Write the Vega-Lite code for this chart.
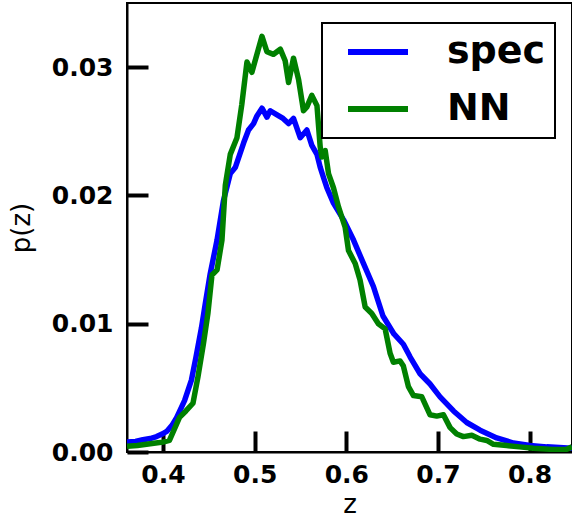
{
  "$schema": "https://vega.github.io/schema/vega-lite/v6.json",
  "width": 445,
  "height": 449,
  "autosize": {"type": "none"},
  "padding": {"left": 127, "top": 3, "right": 0, "bottom": 67},
  "config": {
    "view": {"stroke": "black", "strokeWidth": 2},
    "axis": {
      "grid": false,
      "domainColor": "black",
      "domainWidth": 2,
      "tickColor": "black",
      "tickWidth": 4,
      "tickSize": -21,
      "labelFont": "DejaVu Sans",
      "labelFontWeight": "bold",
      "labelFontSize": 25,
      "labelColor": "black",
      "titleFont": "DejaVu Sans",
      "titleFontWeight": "normal",
      "titleFontSize": 26,
      "titleColor": "black"
    },
    "legend": {"strokeWidth": 2}
  },
  "data": {
    "values": [
      {"z": 0.3607, "p": 0.00077, "s": "spec"},
      {"z": 0.370, "p": 0.00082, "s": "spec"},
      {"z": 0.378, "p": 0.00096, "s": "spec"},
      {"z": 0.386, "p": 0.00105, "s": "spec"},
      {"z": 0.393, "p": 0.0012, "s": "spec"},
      {"z": 0.399, "p": 0.0014, "s": "spec"},
      {"z": 0.404, "p": 0.0016, "s": "spec"},
      {"z": 0.410, "p": 0.0021, "s": "spec"},
      {"z": 0.415, "p": 0.0027, "s": "spec"},
      {"z": 0.4235, "p": 0.0040, "s": "spec"},
      {"z": 0.431, "p": 0.0056, "s": "spec"},
      {"z": 0.436, "p": 0.0074, "s": "spec"},
      {"z": 0.442, "p": 0.0097, "s": "spec"},
      {"z": 0.446, "p": 0.0115, "s": "spec"},
      {"z": 0.4515, "p": 0.0139, "s": "spec"},
      {"z": 0.4589, "p": 0.0165, "s": "spec"},
      {"z": 0.466, "p": 0.0196, "s": "spec"},
      {"z": 0.4734, "p": 0.0217, "s": "spec"},
      {"z": 0.479, "p": 0.0222, "s": "spec"},
      {"z": 0.488, "p": 0.0241, "s": "spec"},
      {"z": 0.4933, "p": 0.0251, "s": "spec"},
      {"z": 0.4988, "p": 0.0256, "s": "spec"},
      {"z": 0.5025, "p": 0.0262, "s": "spec"},
      {"z": 0.508, "p": 0.0268, "s": "spec"},
      {"z": 0.5134, "p": 0.0261, "s": "spec"},
      {"z": 0.517, "p": 0.0266, "s": "spec"},
      {"z": 0.524, "p": 0.0263, "s": "spec"},
      {"z": 0.531, "p": 0.0260, "s": "spec"},
      {"z": 0.537, "p": 0.0256, "s": "spec"},
      {"z": 0.5424, "p": 0.0260, "s": "spec"},
      {"z": 0.5497, "p": 0.0245, "s": "spec"},
      {"z": 0.557, "p": 0.0251, "s": "spec"},
      {"z": 0.5624, "p": 0.0239, "s": "spec"},
      {"z": 0.568, "p": 0.0232, "s": "spec"},
      {"z": 0.5715, "p": 0.0222, "s": "spec"},
      {"z": 0.5751, "p": 0.0214, "s": "spec"},
      {"z": 0.5788, "p": 0.0206, "s": "spec"},
      {"z": 0.586, "p": 0.0194, "s": "spec"},
      {"z": 0.597, "p": 0.0181, "s": "spec"},
      {"z": 0.608, "p": 0.0165, "s": "spec"},
      {"z": 0.6187, "p": 0.0147, "s": "spec"},
      {"z": 0.6296, "p": 0.0129, "s": "spec"},
      {"z": 0.640, "p": 0.0106, "s": "spec"},
      {"z": 0.652, "p": 0.0092, "s": "spec"},
      {"z": 0.6623, "p": 0.0084, "s": "spec"},
      {"z": 0.6697, "p": 0.0074, "s": "spec"},
      {"z": 0.6805, "p": 0.0061, "s": "spec"},
      {"z": 0.6914, "p": 0.0053, "s": "spec"},
      {"z": 0.7023, "p": 0.0043, "s": "spec"},
      {"z": 0.717, "p": 0.0032, "s": "spec"},
      {"z": 0.7314, "p": 0.0023, "s": "spec"},
      {"z": 0.746, "p": 0.0017, "s": "spec"},
      {"z": 0.7642, "p": 0.0011, "s": "spec"},
      {"z": 0.7824, "p": 0.0007, "s": "spec"},
      {"z": 0.8005, "p": 0.0005, "s": "spec"},
      {"z": 0.8187, "p": 0.0004, "s": "spec"},
      {"z": 0.8463, "p": 0.0003, "s": "spec"},
      {"z": 0.3607, "p": 0.00044, "s": "NN"},
      {"z": 0.372, "p": 0.0005, "s": "NN"},
      {"z": 0.382, "p": 0.0006, "s": "NN"},
      {"z": 0.392, "p": 0.0007, "s": "NN"},
      {"z": 0.400, "p": 0.00077, "s": "NN"},
      {"z": 0.407, "p": 0.0009, "s": "NN"},
      {"z": 0.418, "p": 0.0027, "s": "NN"},
      {"z": 0.425, "p": 0.0032, "s": "NN"},
      {"z": 0.4327, "p": 0.0038, "s": "NN"},
      {"z": 0.438, "p": 0.0058, "s": "NN"},
      {"z": 0.444, "p": 0.0084, "s": "NN"},
      {"z": 0.449, "p": 0.0108, "s": "NN"},
      {"z": 0.4534, "p": 0.0138, "s": "NN"},
      {"z": 0.459, "p": 0.0142, "s": "NN"},
      {"z": 0.4643, "p": 0.0165, "s": "NN"},
      {"z": 0.468, "p": 0.0208, "s": "NN"},
      {"z": 0.4734, "p": 0.0232, "s": "NN"},
      {"z": 0.4807, "p": 0.0245, "s": "NN"},
      {"z": 0.486, "p": 0.0271, "s": "NN"},
      {"z": 0.4916, "p": 0.0304, "s": "NN"},
      {"z": 0.497, "p": 0.0296, "s": "NN"},
      {"z": 0.5025, "p": 0.0310, "s": "NN"},
      {"z": 0.508, "p": 0.0324, "s": "NN"},
      {"z": 0.5134, "p": 0.0312, "s": "NN"},
      {"z": 0.5206, "p": 0.0310, "s": "NN"},
      {"z": 0.528, "p": 0.0314, "s": "NN"},
      {"z": 0.5333, "p": 0.0305, "s": "NN"},
      {"z": 0.537, "p": 0.0288, "s": "NN"},
      {"z": 0.5424, "p": 0.0307, "s": "NN"},
      {"z": 0.548, "p": 0.0290, "s": "NN"},
      {"z": 0.5533, "p": 0.0266, "s": "NN"},
      {"z": 0.557, "p": 0.0269, "s": "NN"},
      {"z": 0.5624, "p": 0.0278, "s": "NN"},
      {"z": 0.568, "p": 0.0270, "s": "NN"},
      {"z": 0.5715, "p": 0.0238, "s": "NN"},
      {"z": 0.5733, "p": 0.0230, "s": "NN"},
      {"z": 0.577, "p": 0.0235, "s": "NN"},
      {"z": 0.5806, "p": 0.0217, "s": "NN"},
      {"z": 0.586, "p": 0.0206, "s": "NN"},
      {"z": 0.5915, "p": 0.0191, "s": "NN"},
      {"z": 0.5988, "p": 0.0175, "s": "NN"},
      {"z": 0.6024, "p": 0.0157, "s": "NN"},
      {"z": 0.6097, "p": 0.0147, "s": "NN"},
      {"z": 0.615, "p": 0.0134, "s": "NN"},
      {"z": 0.6206, "p": 0.0113, "s": "NN"},
      {"z": 0.6278, "p": 0.0108, "s": "NN"},
      {"z": 0.635, "p": 0.0100, "s": "NN"},
      {"z": 0.6424, "p": 0.0096, "s": "NN"},
      {"z": 0.6478, "p": 0.0077, "s": "NN"},
      {"z": 0.6514, "p": 0.0070, "s": "NN"},
      {"z": 0.6587, "p": 0.0071, "s": "NN"},
      {"z": 0.6623, "p": 0.0067, "s": "NN"},
      {"z": 0.6678, "p": 0.0051, "s": "NN"},
      {"z": 0.6733, "p": 0.0044, "s": "NN"},
      {"z": 0.6824, "p": 0.0043, "s": "NN"},
      {"z": 0.6914, "p": 0.0029, "s": "NN"},
      {"z": 0.6987, "p": 0.0028, "s": "NN"},
      {"z": 0.706, "p": 0.0029, "s": "NN"},
      {"z": 0.7133, "p": 0.0019, "s": "NN"},
      {"z": 0.7205, "p": 0.0014, "s": "NN"},
      {"z": 0.7278, "p": 0.0012, "s": "NN"},
      {"z": 0.737, "p": 0.0013, "s": "NN"},
      {"z": 0.746, "p": 0.0010, "s": "NN"},
      {"z": 0.7533, "p": 0.0009, "s": "NN"},
      {"z": 0.7606, "p": 0.0006, "s": "NN"},
      {"z": 0.775, "p": 0.0005, "s": "NN"},
      {"z": 0.789, "p": 0.0004, "s": "NN"},
      {"z": 0.8041, "p": 0.0003, "s": "NN"},
      {"z": 0.825, "p": 0.0002, "s": "NN"},
      {"z": 0.840, "p": 0.0002, "s": "NN"},
      {"z": 0.8463, "p": 0.0004, "s": "NN"}
    ]
  },
  "mark": {"type": "line", "strokeWidth": 5.5, "clip": true, "strokeJoin": "round"},
  "encoding": {
    "x": {
      "field": "z",
      "type": "quantitative",
      "scale": {"domain": [0.3607, 0.8463], "nice": false, "zero": false},
      "axis": {"values": [0.4, 0.5, 0.6, 0.7, 0.8], "format": ".1f", "title": "z", "labelPadding": 31}
    },
    "y": {
      "field": "p",
      "type": "quantitative",
      "scale": {"domain": [0, 0.035], "nice": false},
      "axis": {"values": [0, 0.01, 0.02, 0.03], "format": ".2f", "title": "p(z)", "labelPadding": 35, "titlePadding": 17}
    },
    "color": {
      "field": "s",
      "type": "nominal",
      "scale": {"domain": ["spec", "NN"], "range": ["#0000ff", "#008000"]},
      "legend": {
        "orient": "none",
        "legendX": 195,
        "legendY": 20,
        "title": null,
        "symbolType": "stroke",
        "symbolSize": 3600,
        "symbolStrokeWidth": 6,
        "symbolOffset": 14,
        "labelFont": "DejaVu Sans",
        "labelFontWeight": "bold",
        "labelFontSize": 38,
        "labelColor": "black",
        "labelOffset": 36,
        "strokeColor": "black",
        "padding": 9,
        "clipHeight": 40,
        "rowPadding": 17
      }
    }
  }
}
